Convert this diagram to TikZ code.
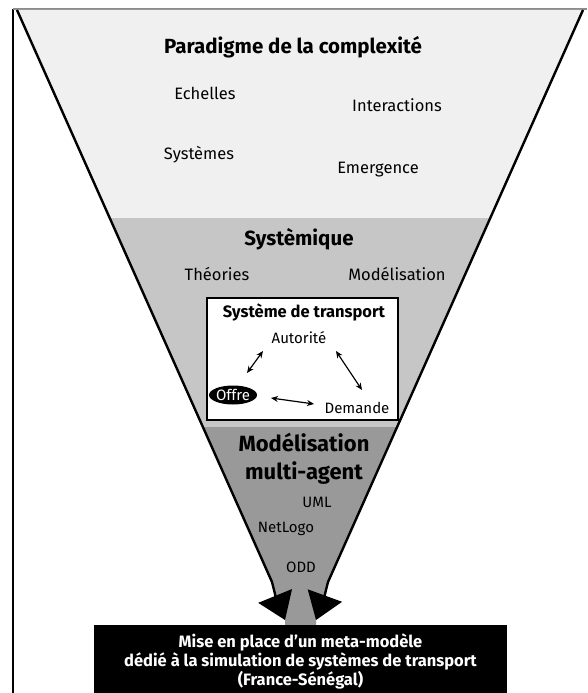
\documentclass[tikz,border=0pt]{standalone}
\usepackage{fontspec}
\setmainfont{Fira Sans}
\usetikzlibrary{arrows.meta,shapes.geometric}
\definecolor{bandeA}{HTML}{F0F0F0}
\definecolor{bandeB}{HTML}{C6C6C6}
\definecolor{bandeC}{HTML}{999999}
\definecolor{cadre}{HTML}{8C8C8C}

\begin{document}
\begin{tikzpicture}[x=1pt, y=-1pt,
    titre/.style={font=\bfseries\fontsize{20.5}{24}\selectfont},
    mot/.style={font=\fontsize{16.5}{19}\selectfont},
    petit/.style={font=\fontsize{15}{18}\selectfont},
    biarrow/.style={{Stealth[length=7pt,width=6pt]}-{Stealth[length=7pt,width=6pt]}, line width=1.2pt},
    bord/.style={line width=2.4pt, -{Triangle[length=26pt,width=36pt]}}]
    \useasboundingbox (0,0) rectangle (587,693);

    % 定義外框
    \coordinate (G0) at (13,693);
    \coordinate (G1) at (13,9);
    \coordinate (G2) at (587,9);
    \draw[line width=1.4pt] (G0) -- (G1);
    \draw[cadre, line width=1.6pt] (G1) -- (G2);

    % 定義漏斗的頂點
    \coordinate (A) at (17,10);
    \coordinate (B) at (583,10);
    \coordinate (C) at (328,582);
    \coordinate (D) at (272,582);
    \coordinate (E) at (316,620);
    \coordinate (F) at (285,620);

    % 畫出三個層次
    \begin{scope}
        \clip (A) -- (B) -- (C) .. controls (324,598) .. (E) -- (316,627) -- (285,627) -- (F) .. controls (276,598) .. (D) -- cycle;
        \fill[bandeA] (0,0) rectangle (587,218);
        \fill[bandeB] (0,218) rectangle (587,427);
        \fill[bandeC] (0,427) rectangle (587,640);
    \end{scope}

    % 畫出漏斗的邊
    \draw[bord] (A) -- (D) .. controls (276,598) .. (F);
    \draw[bord] (B) -- (C) .. controls (324,598) .. (E);

    % 第一層
    \node[titre] (paradigme) at (293,47) {Paradigme de la complexité};
    \node[mot] (echelles) at (205,93) {Echelles};
    \node[mot] (interactions) at (397,105) {Interactions};
    \node[mot] (systemes) at (199,155) {Systèmes};
    \node[mot] (emergence) at (378,170) {Emergence};

    % 第二層
    \node[titre] (systemique) at (299,239) {Systèmique};
    \node[mot] (theories) at (217,274) {Théories};
    \node[mot] (modelisation) at (397,274) {Modélisation};

    % 系統方塊
    \node[draw, line width=1.3pt, fill=white, minimum width=191pt, minimum height=122pt, inner sep=0pt] (transport) at (302.5,359) {};
    \node[font=\bfseries\fontsize{16.5}{19}\selectfont] (titretransport) at (304,312) {Système de transport};
    \node[petit] (autorite) at (299,338) {Autorité};
    \node[ellipse, fill=black, text=white, inner sep=0pt, minimum width=46pt, minimum height=19pt, font=\fontsize{15}{18}\selectfont] (offre) at (233,395) {Offre};
    \node[petit] (demande) at (357,408) {Demande};

    % 畫出箭頭
    \draw[biarrow] ([shift={(14,-22)}]offre.center) -- ([shift={(-36,13)}]autorite.center);
    \draw[biarrow] ([shift={(37,13)}]autorite.center) -- ([shift={(5,-18)}]demande.center);
    \draw[biarrow] ([shift={(38,3)}]offre.center) -- ([shift={(-43,-4)}]demande.center);

    % 第三層
    \node[font=\bfseries\fontsize{22}{28}\selectfont, align=center] (multiagent) at (304,459) {Modélisation\\multi-agent};
    \node[petit] (uml) at (317,502) {UML};
    \node[petit] (netlogo) at (286,529) {NetLogo};
    \node[petit] (odd) at (301,567) {ODD};

    % 結果
    \fill (94,625) rectangle (507,700);
    \node[text=white, font=\bfseries\fontsize{16.5}{19}\selectfont, align=center] (metamodele) at (300.5,661) {Mise en place d’un meta-modèle\\dédié à la simulation de systèmes de transport\\(France-Sénégal)};
\end{tikzpicture}
\end{document}
